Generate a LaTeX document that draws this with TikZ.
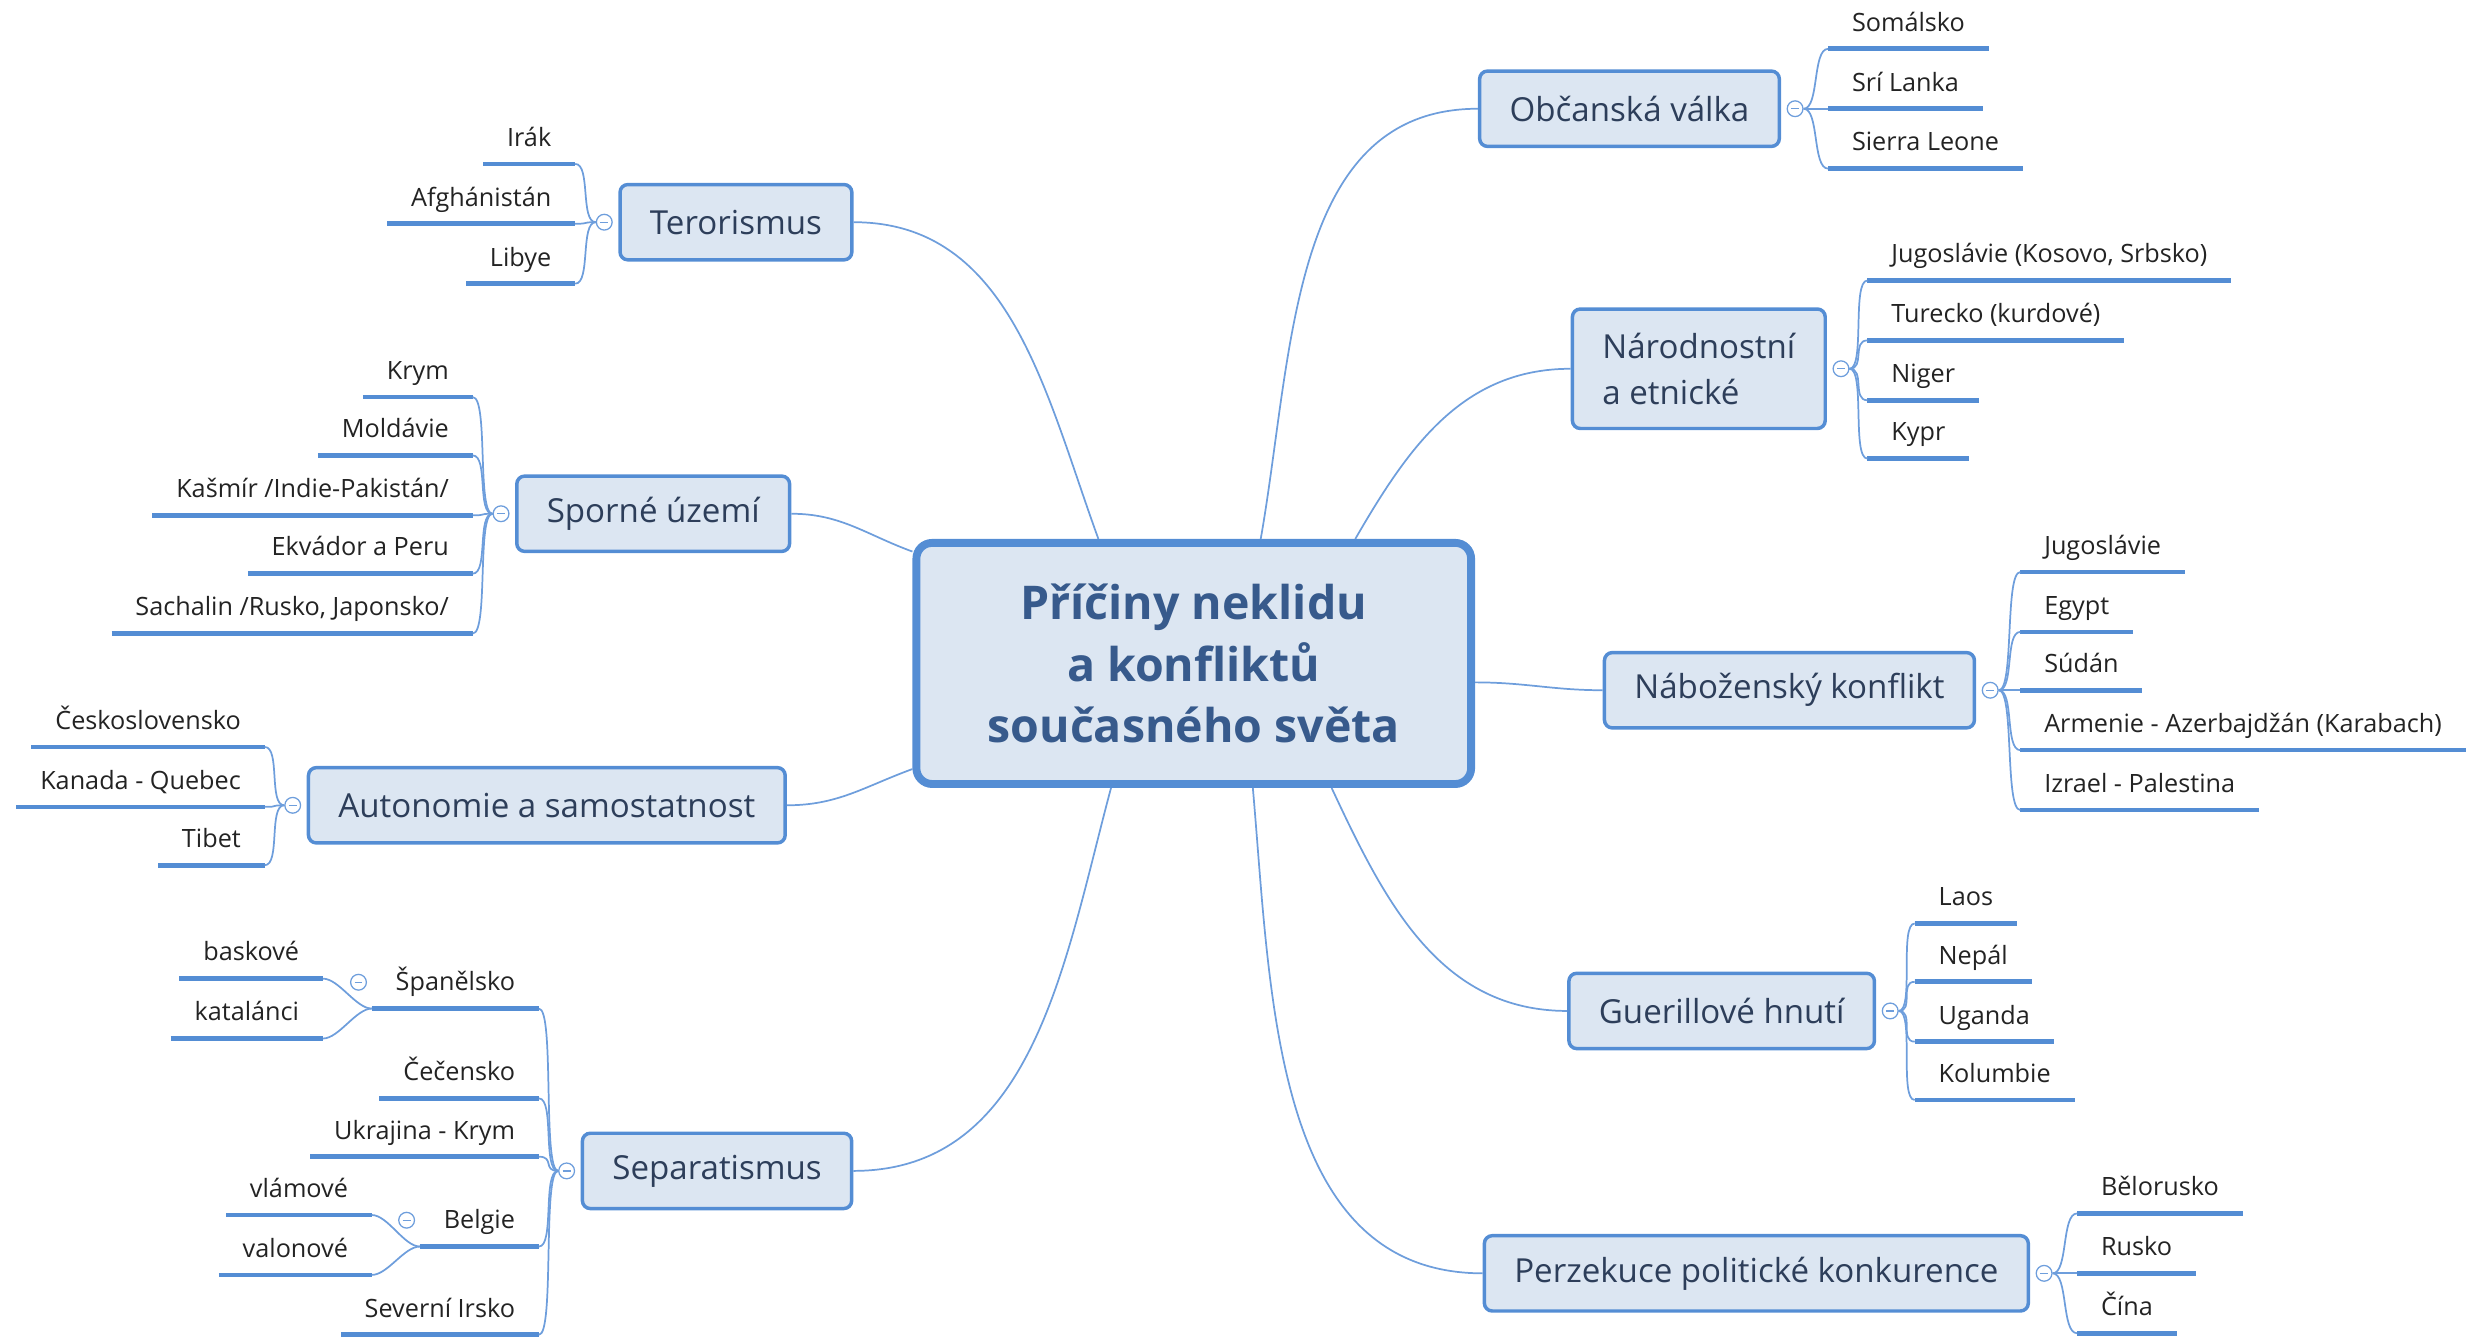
\documentclass[tikz,border=0pt]{standalone}
\usepackage{fontspec}
\setmainfont{Open Sans}
\usetikzlibrary{positioning}

\definecolor{bordc}{RGB}{84,141,212}
\definecolor{fillc}{RGB}{220,230,242}
\definecolor{linec}{RGB}{110,158,220}
\definecolor{topc}{RGB}{45,62,90}
\definecolor{mainc}{RGB}{55,90,140}
\definecolor{leafc}{RGB}{35,35,35}

\begin{document}
\begin{tikzpicture}[
  x=1pt, y=-1pt,
  centre/.style={draw=bordc,fill=fillc,line width=5pt,rounded corners=10pt,
    minimum width=352pt,minimum height=153pt,align=center,text=mainc,
    font=\fontsize{29.5}{39}\selectfont\bfseries},
  topic/.style={draw=bordc,fill=fillc,line width=2.2pt,rounded corners=5pt,
    minimum height=47.8pt,inner xsep=19pt,text=topc,
    font=\fontsize{21}{29}\selectfont},
  leaf/.style={text=leafc,inner xsep=15pt,inner ysep=2pt,text height=12pt,
    text depth=9pt,font=\fontsize{16}{18}\selectfont,
    append after command={(\tikzlastnode.south west) edge[draw=bordc,line width=3pt] (\tikzlastnode.south east)}},
  leafr/.style={leaf,anchor=south west},
  leafl/.style={leaf,anchor=south east},
  foldmark/.style={circle,draw=linec,fill=white,line width=0.8pt,minimum size=10pt,inner sep=0pt,
    path picture={\draw[linec,line width=0.8pt] ([xshift=-2.5pt]path picture bounding box.center) -- ([xshift=2.5pt]path picture bounding box.center);}},
  conn/.style={draw=linec,line width=1.1pt},
  twig/.style={draw=linec,line width=1.1pt,distance=10pt}
]
\useasboundingbox (0,0) rectangle (1568,848);

\node[centre] (c) at (757.5,421) {Příčiny neklidu\\a konfliktů\\současného světa};

% right side
\node[topic] (obc) at (1034,69) {Občanská válka};
\node[foldmark,right=3.5pt of obc] (fobc) {};
\node[leafr] (som) at (1160,31) {Somálsko};
\node[leafr] (sri) at (1160,69) {Srí Lanka};
\node[leafr] (sie) at (1160,107) {Sierra Leone};

\node[topic,align=left,minimum height=75.8pt] (nar) at (1078,234) {Národnostní\\a etnické};
\node[foldmark,right=3.5pt of nar] (fnar) {};
\node[leafr] (jug1) at (1185,178) {Jugoslávie (Kosovo, Srbsko)};
\node[leafr] (tur) at (1185,216) {Turecko (kurdové)};
\node[leafr] (nig) at (1185,254) {Niger};
\node[leafr] (kyp) at (1185,291) {Kypr};

\node[topic] (nab) at (1135.5,438) {Náboženský konflikt};
\node[foldmark,right=3.5pt of nab] (fnab) {};
\node[leafr] (jug2) at (1282,363) {Jugoslávie};
\node[leafr] (egy) at (1282,401) {Egypt};
\node[leafr] (sud) at (1282,438) {Súdán};
\node[leafr] (arm) at (1282,476) {Armenie - Azerbajdžán (Karabach)};
\node[leafr] (izr) at (1282,514) {Izrael - Palestina};

\node[topic] (gue) at (1092.5,641.5) {Guerillové hnutí};
\node[foldmark,right=3.5pt of gue] (fgue) {};
\node[leafr] (lao) at (1215,586) {Laos};
\node[leafr] (nep) at (1215,623) {Nepál};
\node[leafr] (uga) at (1215,661) {Uganda};
\node[leafr] (kol) at (1215,698) {Kolumbie};

\node[topic] (per) at (1114.5,808) {Perzekuce politické konkurence};
\node[foldmark,right=3.5pt of per] (fper) {};
\node[leafr] (blr) at (1318,770) {Bělorusko};
\node[leafr] (rus) at (1318,808) {Rusko};
\node[leafr] (cin) at (1318,846) {Čína};

% left side
\node[topic] (ter) at (467,141) {Terorismus};
\node[foldmark,left=3.5pt of ter] (fter) {};
\node[leafl] (irak) at (365,104) {Irák};
\node[leafl] (afg) at (365,142) {Afghánistán};
\node[leafl] (lib) at (365,180) {Libye};

\node[topic] (spo) at (414.5,326) {Sporné území};
\node[foldmark,left=3.5pt of spo] (fspo) {};
\node[leafl] (krym) at (300,252) {Krym};
\node[leafl] (mol) at (300,289) {Moldávie};
\node[leafl] (kas) at (300,327) {Kašmír /Indie-Pakistán/};
\node[leafl] (ekv) at (300,364) {Ekvádor a Peru};
\node[leafl] (sach) at (300,402) {Sachalin /Rusko, Japonsko/};

\node[topic] (aut) at (347,511) {Autonomie a samostatnost};
\node[foldmark,left=3.5pt of aut] (faut) {};
\node[leafl] (cs) at (168,474) {Československo};
\node[leafl] (kan) at (168,512) {Kanada - Quebec};
\node[leafl] (tib) at (168,549) {Tibet};

\node[topic] (sep) at (455,743) {Separatismus};
\node[foldmark,left=3.5pt of sep] (fsep) {};
\node[leafl] (spa) at (342,640) {Španělsko};
\node[leafl] (cec) at (342,697) {Čečensko};
\node[leafl] (ukr) at (342,734) {Ukrajina - Krym};
\node[leafl] (bel) at (342,791) {Belgie};
\node[leafl] (irs) at (342,847) {Severní Irsko};

\node[foldmark,left=3pt of spa.west,yshift=4pt] (fspa) {};
\node[leafl] (bask) at (205,621) {baskové};
\node[leafl] (kat) at (205,659) {katalánci};
\node[foldmark,left=3pt of bel.west,yshift=4pt] (fbel) {};
\node[leafl] (vla) at (236,771) {vlámové};
\node[leafl] (val) at (236,809) {valonové};

% main connectors
\path (ter.east) edge[conn,out=0,in=110] ([xshift=118pt]c.north west)
  (spo.east) edge[conn,out=0,in=160] ([yshift=-8pt]c.north west)
  (aut.east) edge[conn,out=0,in=200] ([yshift=12pt]c.south west)
  (sep.east) edge[conn,out=0,in=-105] ([xshift=126pt]c.south west)
  (obc.west) edge[conn,out=180,in=80] ([xshift=221pt]c.north west)
  (nar.west) edge[conn,out=180,in=60] ([xshift=281pt]c.north west)
  ([yshift=-12pt]c.east) edge[conn,out=0,in=180] (nab.west)
  (gue.west) edge[conn,out=180,in=-65] ([xshift=266pt]c.south west)
  (per.west) edge[conn,out=180,in=-85] ([xshift=216pt]c.south west)
;

% twigs
\foreach \f/\l in {fobc/som,fobc/sri,fobc/sie,fnar/jug1,fnar/tur,fnar/nig,fnar/kyp,
  fnab/jug2,fnab/egy,fnab/sud,fnab/arm,fnab/izr,fgue/lao,fgue/nep,fgue/uga,fgue/kol,
  fper/blr,fper/rus,fper/cin}
  \path (\f.east) edge[twig,out=0,in=180] (\l.south west);
\foreach \f/\l in {fter/irak,fter/afg,fter/lib,fspo/krym,fspo/mol,fspo/kas,fspo/ekv,fspo/sach,
  faut/cs,faut/kan,faut/tib,fsep/spa,fsep/cec,fsep/ukr,fsep/bel,fsep/irs}
  \path (\f.west) edge[twig,out=180,in=0] (\l.south east);
\foreach \f/\l in {spa/bask,spa/kat,bel/vla,bel/val}
  \path (\f.south west) edge[twig,out=180,in=0] (\l.south east);

\end{tikzpicture}
\end{document}
